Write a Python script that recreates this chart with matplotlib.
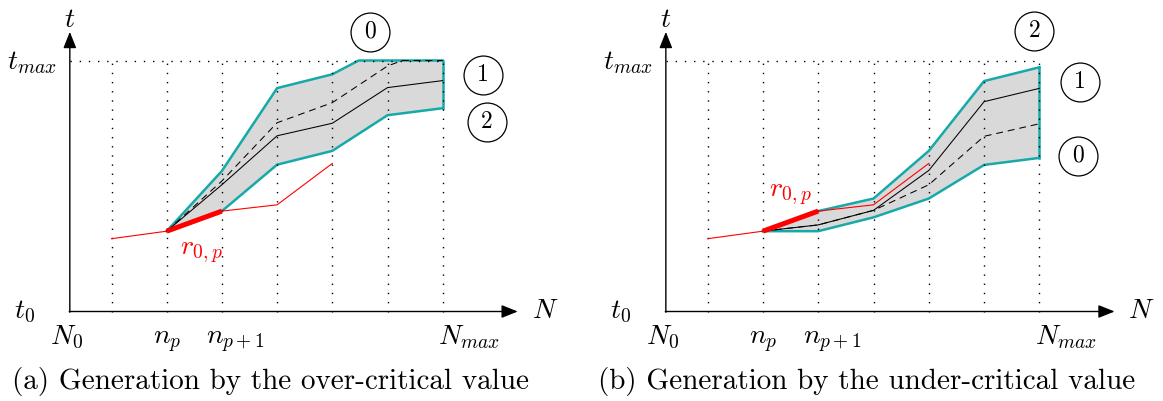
import numpy as np
import matplotlib
matplotlib.use("Agg")
import matplotlib.pyplot as plt

plt.rcParams['mathtext.fontset'] = 'cm'
plt.rcParams['lines.scale_dashes'] = False

# ---------------- data (grid index k, normalised time t0=0 .. tmax=1) ----------------
grid_k = [1, 2, 3, 4, 5, 6, 7]
red_k = [1, 2, 3, 4, 5]
red_t = [0.29, 0.32, 0.40, 0.425, 0.59]
band_k = [2, 3, 4, 5, 6, 7]

upper_a = [0.32, 0.56, 0.89, 0.945, 1.06, 1.10]
lower_a = [0.32, 0.40, 0.585, 0.64, 0.782, 0.81]
solid_a = [0.32, 0.505, 0.70, 0.75, 0.892, 0.92]
dashed_a = [0.32, 0.52, 0.752, 0.832, 0.978, 1.06]

upper_b = [0.32, 0.40, 0.45, 0.64, 0.918, 0.973]
lower_b = [0.32, 0.32, 0.375, 0.45, 0.584, 0.612]
solid_b = [0.32, 0.345, 0.403, 0.562, 0.836, 0.889]
dashed_b = [0.32, 0.345, 0.403, 0.505, 0.698, 0.748]

circles_a = [("0", 5.69, 1.115), ("1", 7.73, 0.942), ("2", 7.80, 0.755)]
circles_b = [("2", 6.91, 1.116), ("1", 7.73, 0.914), ("0", 7.70, 0.621)]

captions = ["(a) Generation by the over-critical value",
            "(b) Generation by the under-critical value"]

CYAN = '#17a9a9'
GRAY = '#d9d9d9'
FS = 20
FS_CAP = 21
FS_NUM = 17

W, H = 1163, 401
fig = plt.figure(figsize=(W / 100, H / 100), dpi=100)

X_AXIS_PY, TMAX_PY = 311.5, 60.5


def clip_top(k, t, top=1.0):
    """insert crossing points and clip a polyline at t=top"""
    xs, ys = [k[0]], [min(t[0], top)]
    for i in range(1, len(k)):
        k0, k1, t0, t1 = k[i - 1], k[i], t[i - 1], t[i]
        if (t0 - top) * (t1 - top) < 0:
            kc = k0 + (top - t0) / (t1 - t0) * (k1 - k0)
            xs.append(kc)
            ys.append(top)
        xs.append(k1)
        ys.append(min(t1, top))
    return np.array(xs), np.array(ys)


def make_ax(left_px, right_px, grid1_px, spacing_px):
    ax = fig.add_axes([left_px / W, 0, (right_px - left_px) / W, 1])
    kl = (left_px - grid1_px) / spacing_px + 1
    kr = (right_px - grid1_px) / spacing_px + 1
    scale = X_AXIS_PY - TMAX_PY
    ax.set_xlim(kl, kr)
    ax.set_ylim((X_AXIS_PY - H) / scale, X_AXIS_PY / scale)
    ax.axis('off')
    ax.patch.set_alpha(0)
    return ax


def draw_panel(ax, upper, lower, solid, dashed, circles, caption):
    k0 = 0.245
    # band
    xu, yu = clip_top(band_k, upper)
    xl, yl = np.array(band_k, float), np.array(lower, float)
    ax.fill(np.concatenate([xu, xl[::-1]]), np.concatenate([yu, yl[::-1]]),
            color=GRAY, lw=0, zorder=1)
    ax.plot(xu, yu, color=CYAN, lw=1.8, zorder=2, solid_joinstyle='miter')
    ax.plot(xl, yl, color=CYAN, lw=1.8, zorder=2, solid_joinstyle='miter')
    ax.plot([xl[-1], xu[-1]], [yl[-1], yu[-1]], color=CYAN, lw=1.8, zorder=2)

    # dotted grid
    dot = dict(color='black', lw=1.0, dashes=(1.0, 5.6), zorder=3)
    for k in grid_k:
        ax.plot([k, k], [0, 1], **dot)
    ax.plot([k0, grid_k[-1]], [1, 1], **dot)

    # curves
    xs, ys = clip_top(band_k, solid)
    ax.plot(xs, ys, color='black', lw=0.75, zorder=4)
    xd, yd = clip_top(band_k, dashed)
    ax.plot(xd, yd, color='black', lw=0.75, dashes=(5.0, 3.5), zorder=4)

    ax.plot(red_k, red_t, color='red', lw=0.8, zorder=5)
    ax.plot(red_k[1:3], red_t[1:3], color='red', lw=3.6, zorder=5,
            solid_capstyle='butt')

    # axes arrows
    arr = dict(arrowstyle='-|>,head_length=0.55,head_width=0.22', lw=1.0,
               color='black', shrinkA=0, shrinkB=0, mutation_scale=18)
    ax.annotate('', xy=(8.36, 0), xytext=(k0 - 0.01, 0), arrowprops=arr, zorder=6)
    ax.annotate('', xy=(k0, 1.114), xytext=(k0, -0.003), arrowprops=arr, zorder=6)

    # labels
    ax.text(k0, 1.165, r'$t$', fontsize=FS, ha='center', va='center')
    ax.text(0.0, 0.966, r'$t_{max}$', fontsize=FS, ha='right', va='baseline')
    ax.text(-0.575, -0.026, r'$t_0$', fontsize=FS, ha='center', va='baseline')
    ax.text(8.85, -0.026, r'$N$', fontsize=FS, ha='center', va='baseline')
    for lab, k in [(r'$N_0$', 0.19), (r'$n_p$', 2.01), (r'$n_{p+1}$', 3.25),
                   (r'$N_{max}$', 7.48)]:
        ax.text(k, -0.132, lab, fontsize=FS, ha='center', va='baseline')

    for lab, k, t in circles:
        ax.plot([k], [t], marker='o', ms=28, mfc='none', mec='black', mew=0.9)
        ax.text(k, t, lab, fontsize=FS_NUM, ha='center', va='center',
                family='cmr10')

    ax.text(3.88, -0.277, caption, fontsize=FS_CAP, ha='center', va='center',
            family='cmr10')


ax_a = make_ax(0, 581.5, 111.5, 55.2)
draw_panel(ax_a, upper_a, lower_a, solid_a, dashed_a, circles_a, captions[0])
ax_a.text(2.62, 0.241, r'$r_{0,p}$', fontsize=FS, color='red', ha='center', va='center')

ax_b = make_ax(581.5, 1163, 707.6, 55.3)
draw_panel(ax_b, upper_b, lower_b, solid_b, dashed_b, circles_b, captions[1])
ax_b.text(2.49, 0.472, r'$r_{0,p}$', fontsize=FS, color='red', ha='center', va='center')

fig.savefig('out.png', dpi=100)
